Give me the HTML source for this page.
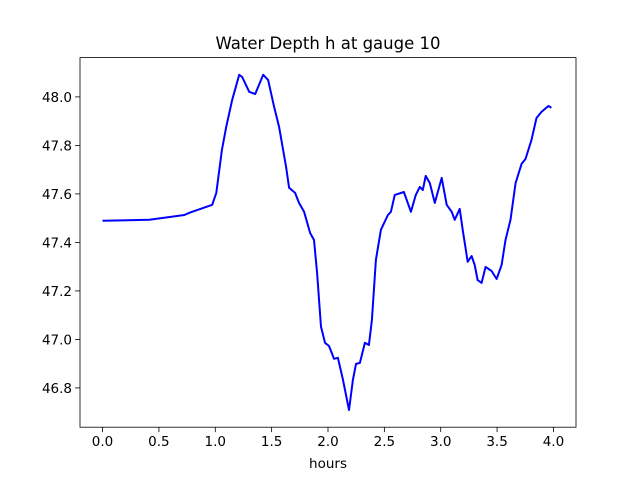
<!DOCTYPE html>
<html><head><meta charset="utf-8"><style>body{margin:0;background:#fff}svg text{font-family:"DejaVu Sans","Liberation Sans",sans-serif}</style></head>
<body>
<svg id="chart" width="640" height="480" xmlns="http://www.w3.org/2000/svg">
<rect width="640" height="480" fill="#fff"/>
<text x="328" y="49" font-size="16.5" text-anchor="middle">Water Depth h at gauge 10</text>
<g id="plot"></g>
<text x="328" y="468" font-size="13.5" text-anchor="middle">hours</text>
</svg>
<script>
const hours=[0,0.416,0.726,0.77,0.973,1.009,1.059,1.097,1.15,1.212,1.239,1.301,1.354,1.425,1.469,1.522,1.566,1.628,1.655,1.708,1.743,1.788,1.841,1.876,1.903,1.938,1.973,2.009,2.053,2.088,2.133,2.186,2.221,2.248,2.283,2.327,2.363,2.389,2.425,2.469,2.531,2.558,2.593,2.673,2.735,2.779,2.814,2.841,2.867,2.903,2.947,3.009,3.053,3.097,3.124,3.168,3.195,3.239,3.274,3.301,3.327,3.363,3.398,3.451,3.496,3.54,3.575,3.619,3.664,3.717,3.752,3.805,3.85,3.894,3.956,3.982];
const depth=[47.489,47.493,47.513,47.522,47.555,47.604,47.781,47.876,47.988,48.091,48.082,48.021,48.012,48.091,48.07,47.959,47.876,47.711,47.625,47.604,47.563,47.526,47.439,47.41,47.274,47.052,46.986,46.973,46.92,46.924,46.833,46.709,46.833,46.899,46.903,46.986,46.977,47.08,47.328,47.452,47.513,47.526,47.596,47.608,47.526,47.596,47.629,47.616,47.674,47.645,47.563,47.666,47.555,47.526,47.493,47.538,47.452,47.32,47.344,47.307,47.245,47.233,47.299,47.282,47.249,47.307,47.41,47.493,47.645,47.724,47.744,47.823,47.913,47.938,47.963,47.955];
const xTicks=[0,0.5,1,1.5,2,2.5,3,3.5,4];
const xTickLabels=["0.0","0.5","1.0","1.5","2.0","2.5","3.0","3.5","4.0"];
const yTicks=[46.8,47.0,47.2,47.4,47.6,47.8,48.0];
const yTickLabels=["46.8","47.0","47.2","47.4","47.6","47.8","48.0"];
const L=80,R=576,T=57.6,B=427.2;
const xmin=-0.2,xmax=4.2,ymin=46.638,ymax=48.162;
const X=v=>L+(v-xmin)/(xmax-xmin)*(R-L);
const Y=v=>B-(v-ymin)/(ymax-ymin)*(B-T);
const ns="http://www.w3.org/2000/svg",g=document.getElementById('plot');
function mk(t,a){const e=document.createElementNS(ns,t);for(const k in a)e.setAttribute(k,a[k]);g.appendChild(e);return e;}
let d=hours.map((h,i)=>(i?'L':'M')+X(h).toFixed(1)+','+Y(depth[i]).toFixed(1)).join('');
const line=mk('path',{d:d,fill:'none',stroke:'#0000ff','stroke-width':2,'stroke-linejoin':'round'});


xTicks.forEach((v,i)=>{const x=X(v);
 const t=mk('line',{x1:x,x2:x,y1:B,y2:B+4.9,stroke:'#000','stroke-width':0.8});
 
 
 const tx=mk('text',{x:x,y:B+19,'font-size':13.5,'text-anchor':'middle'});tx.textContent=xTickLabels[i];
 
 });
yTicks.forEach((v,i)=>{const y=Y(v);
 const t=mk('line',{x1:L-4.9,x2:L,y1:y,y2:y,stroke:'#000','stroke-width':0.8});
 
 
 const tx=mk('text',{x:L-8,y:y+5,'font-size':13.5,'text-anchor':'end'});tx.textContent=yTickLabels[i];
 
 });
const fr=mk('rect',{x:L,y:T,width:R-L,height:B-T,fill:'none',stroke:'#000','stroke-width':0.8});


</script>
</body></html>
